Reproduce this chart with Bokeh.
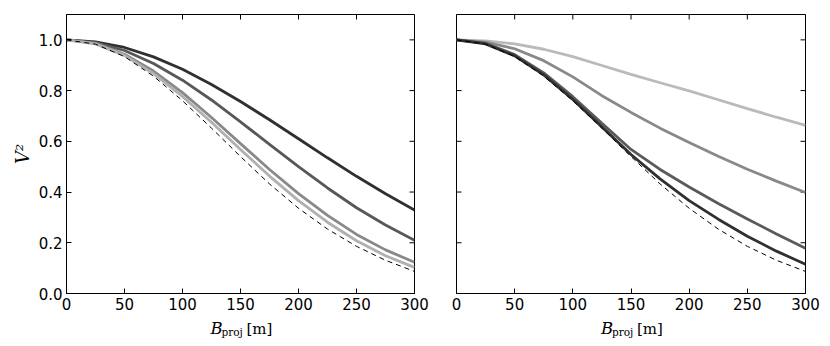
from bokeh.plotting import figure
from bokeh.models import Range1d, FixedTicker, CustomJSTickFormatter, Label
from bokeh.layouts import row, column
from bokeh.embed import file_html
from bokeh.resources import INLINE

# Projected baseline [m]
baseline = [0, 25, 50, 75, 100, 125, 150, 175, 200, 225, 250, 275, 300]

# Reference model (dashed), same in both panels
v2_reference = [1.0, 0.983, 0.934, 0.857, 0.760, 0.652, 0.540, 0.432, 0.336, 0.254, 0.186, 0.131, 0.087]

# Left panel curves (darkest -> lightest)
left_a = [1.0, 0.992, 0.970, 0.933, 0.884, 0.824, 0.757, 0.685, 0.610, 0.535, 0.462, 0.393, 0.329]
left_b = [1.0, 0.989, 0.958, 0.907, 0.841, 0.763, 0.677, 0.588, 0.500, 0.416, 0.338, 0.270, 0.210]
left_c = [1.0, 0.986, 0.943, 0.877, 0.792, 0.694, 0.591, 0.489, 0.394, 0.308, 0.233, 0.172, 0.123]
left_d = [1.0, 0.984, 0.939, 0.867, 0.777, 0.675, 0.568, 0.463, 0.366, 0.281, 0.208, 0.149, 0.103]

# Right panel curves (lightest -> darkest)
right_a = [1.0, 0.996, 0.984, 0.963, 0.934, 0.899, 0.864, 0.831, 0.799, 0.764, 0.729, 0.695, 0.663]
right_b = [1.0, 0.991, 0.965, 0.918, 0.854, 0.780, 0.714, 0.652, 0.595, 0.541, 0.490, 0.443, 0.398]
right_c = [1.0, 0.986, 0.942, 0.870, 0.776, 0.671, 0.568, 0.489, 0.420, 0.355, 0.294, 0.235, 0.178]
right_d = [1.0, 0.984, 0.937, 0.862, 0.765, 0.657, 0.548, 0.452, 0.366, 0.293, 0.226, 0.167, 0.115]

x_ticks = [0, 50, 100, 150, 200, 250, 300]
y_ticks = [0.0, 0.2, 0.4, 0.6, 0.8, 1.0]

left_series = [left_a, left_b, left_c, left_d]
left_colors = ["#303030", "#585858", "#898989", "#b0b0b0"]
right_series = [right_a, right_b, right_c, right_d]
right_colors = ["#bababa", "#898989", "#5a5a5a", "#303030"]

TICK_FONT = "DejaVu Sans"
SERIF = "DejaVu Serif"
FRAME_H = 279
LABEL_H = 32
TICK_PX = 5
X0, X1 = 0, 300
Y0, Y1 = 0.0, 1.1


def style_axis(ax, ticks, fmt):
    ax.ticker = FixedTicker(ticks=ticks)
    ax.formatter = CustomJSTickFormatter(code=fmt)
    ax.major_tick_in = TICK_PX
    ax.major_tick_out = 0
    ax.minor_tick_line_color = None
    ax.major_tick_line_color = "black"
    ax.major_tick_line_width = 1
    ax.axis_line_color = "black"
    ax.axis_line_width = 1
    ax.major_label_text_font = TICK_FONT
    ax.major_label_text_color = "black"
    ax.major_label_text_font_size = "15px"
    ax.major_label_standoff = 4


def make_panel(series, colors, fw, bl, br, ylabels):
    p = figure(frame_width=fw, frame_height=FRAME_H,
               x_range=Range1d(X0, X1), y_range=Range1d(Y0, Y1),
               output_backend="svg", toolbar_location=None,
               min_border_left=bl, min_border_right=br,
               min_border_top=14, min_border_bottom=20,
               background_fill_color="white", border_fill_color="white")
    p.grid.visible = False
    p.outline_line_color = "black"
    p.outline_line_width = 1

    style_axis(p.xaxis[0], x_ticks, "return tick.toFixed(0)")
    style_axis(p.yaxis[0], y_ticks, "return tick.toFixed(1)")

    dy = (Y1 - Y0) * TICK_PX / FRAME_H
    dx = (X1 - X0) * TICK_PX / fw
    # inward ticks on the top and right edges
    p.segment(x0=x_ticks, y0=[Y1] * len(x_ticks), x1=x_ticks, y1=[Y1 - dy] * len(x_ticks),
              line_color="black", line_width=1)
    p.segment(x0=[X1] * len(y_ticks), y0=y_ticks, x1=[X1 - dx] * len(y_ticks), y1=y_ticks,
              line_color="black", line_width=1)
    if ylabels:
        ax = p.yaxis[0]
        ax.axis_label = "V²"
        ax.axis_label_text_font = SERIF
        ax.axis_label_text_font_style = "italic"
        ax.axis_label_text_font_size = "18px"
        ax.axis_label_text_color = "black"
        ax.axis_label_standoff = 3
    else:
        p.yaxis.visible = False
        p.segment(x0=[X0] * len(y_ticks), y0=y_ticks, x1=[X0 + dx] * len(y_ticks), y1=y_ticks,
                  line_color="black", line_width=1)

    for ys, c in zip(series, colors):
        p.line(baseline, ys, line_color=c, line_width=2.8)
    p.line(baseline, v2_reference, line_color="black", line_width=1, line_dash="5 4")
    return p


def make_xlabel(fw, bl, br):
    q = figure(frame_width=fw, frame_height=LABEL_H,
               x_range=Range1d(X0, X1), y_range=Range1d(0, LABEL_H),
               output_backend="svg", toolbar_location=None,
               x_axis_location=None, y_axis_location=None,
               min_border_left=bl, min_border_right=br, min_border_top=0, min_border_bottom=0,
               background_fill_color="white", border_fill_color="white")
    q.grid.visible = False
    q.outline_line_color = None
    mid = (X0 + X1) / 2
    q.add_layout(Label(x=mid, y=17, x_offset=-30, text="B",
                       text_font=SERIF, text_font_style="italic", text_font_size="16.5px",
                       text_align="left", text_baseline="alphabetic", text_color="black"))
    q.add_layout(Label(x=mid, y=13.5, x_offset=-19, text="proj",
                       text_font=SERIF, text_font_size="10.5px",
                       text_align="left", text_baseline="alphabetic", text_color="black"))
    q.add_layout(Label(x=mid, y=17, x_offset=6, text="[m]",
                       text_font=SERIF, text_font_size="15px",
                       text_align="left", text_baseline="alphabetic", text_color="black"))
    return q


p1 = make_panel(left_series, left_colors, 348, 66, 16, True)
p2 = make_panel(right_series, right_colors, 349, 26, 15, False)
l1 = make_xlabel(348, 66, 16)
l2 = make_xlabel(349, 26, 15)

layout = column(row(p1, p2), row(l1, l2))
open("out.html", "w").write(file_html(layout, INLINE))
